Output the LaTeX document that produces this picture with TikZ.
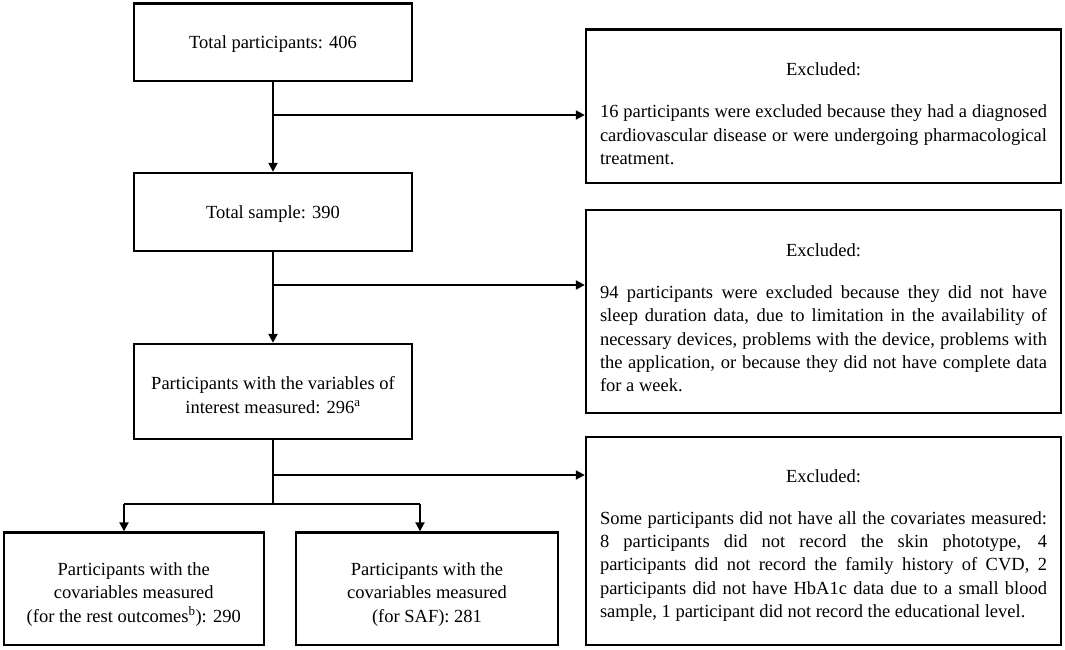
\documentclass[tikz,border=0pt]{standalone}
\usepackage{fontspec}
\setmainfont{Liberation Serif}
\usetikzlibrary{arrows.meta}
\begin{document}
\begin{tikzpicture}[x=1pt,y=-1pt,
  box/.style={draw, line width=2.4pt, rectangle, align=center, inner sep=3pt,
    font=\fontsize{18.5}{23.3}\selectfont},
  exbox/.style={box, text width=447pt, align=justify, minimum width=475pt},
  arr/.style={-{Triangle[length=9pt,width=9pt]}},
  trunk/.style={line width=2.8pt},
  branch/.style={line width=2pt}]
\useasboundingbox (0,0) rectangle (1065,649);

% main column
\node[box, minimum width=278pt, minimum height=77.5pt] (b1) at (273,42.25)
  {\rule{0pt}{16pt}Total participants: 406};
\node[box, minimum width=278pt, minimum height=78pt] (b2) at (273,212)
  {\rule{0pt}{16pt}Total sample: 390};
\node[box, minimum width=278pt, minimum height=95pt] (b3) at (273,391.5)
  {\rule{0pt}{20pt}Participants with the variables of\\interest measured: 296\textsuperscript{a}};
\node[box, minimum width=260pt, minimum height=112.5pt] (b4) at (133.75,588.75)
  {\rule{0pt}{24pt}Participants with the\\covariables measured\\(for the rest outcomes\textsuperscript{b}): 290};
\node[box, minimum width=262pt, minimum height=112.5pt] (b5) at (427,588.75)
  {\rule{0pt}{24pt}Participants with the\\covariables measured\\(for SAF): 281};

% exclusion boxes
\node[exbox, minimum height=153.5pt] (e1) at (823.5,106.25)
  {\makebox[\linewidth]{\rule{0pt}{28pt}Excluded:}\\[18.5pt]
   16 participants were excluded because they had a diagnosed\linebreak
   cardiovascular disease or were undergoing pharmacological\linebreak
   treatment.};
\node[exbox, minimum height=203pt] (e2) at (823.5,311.5)
  {\makebox[\linewidth]{\rule{0pt}{26pt}Excluded:}\\[18.5pt]
   94 participants were excluded because they did not have\linebreak
   sleep duration data, due to limitation in the availability of\linebreak
   necessary devices, problems with the device, problems with\linebreak
   the application, or because they did not have complete data\linebreak
   for a week.};
\node[exbox, minimum height=208pt] (e3) at (823.5,541)
  {\makebox[\linewidth]{\rule{0pt}{22pt}Excluded:}\\[18.5pt]
   Some participants did not have all the covariates measured:\linebreak
   8 participants did not record the skin phototype, 4\linebreak
   participants did not record the family history of CVD, 2\linebreak
   participants did not have HbA1c data due to a small blood\linebreak
   sample, 1 participant did not record the educational level.};

% junctions
\coordinate (j1) at (273,115);
\coordinate (j2) at (273,285);
\coordinate (j3) at (273,475);
\coordinate (s)  at (273,504);
\coordinate (s4) at (124,504);
\coordinate (s5) at (420,504);

% trunk
\draw[trunk, arr] (b1.south) -- (b2.north);
\draw[trunk, arr] (b2.south) -- (b3.north);
\draw[trunk] (b3.south) -- (s);

% branches to exclusions
\draw[branch, arr] (j1) -- (j1 -| e1.west);
\draw[branch, arr] (j2) -- (j2 -| e2.west);
\draw[branch, arr] (j3) -- (j3 -| e3.west);

% split
\draw[branch] (s4) -- (s5);
\draw[branch, arr] (s4) -- (s4 |- b4.north);
\draw[branch, arr] (s5) -- (s5 |- b5.north);
\end{tikzpicture}
\end{document}
